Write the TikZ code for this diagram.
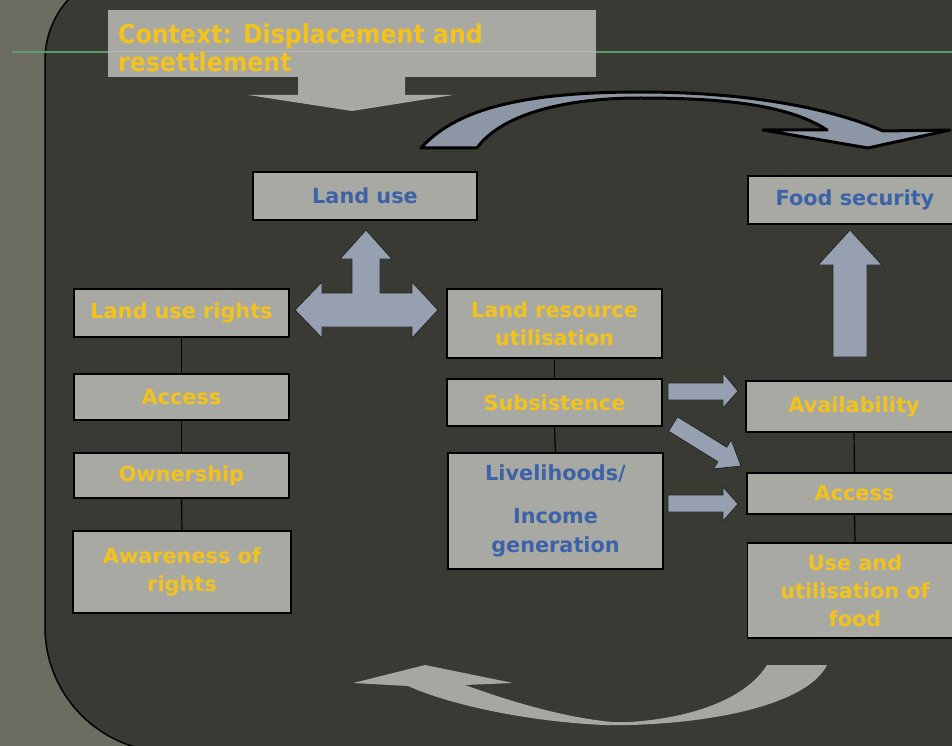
\documentclass[tikz,border=0pt]{standalone}
\usepackage{fontspec}
\setmainfont{DejaVu Sans}
\newfontfamily\ctxfont{DejaVu Sans}[FakeStretch=0.91]

\definecolor{bgolive}{RGB}{108,108,97}
\definecolor{bgpanel}{RGB}{58,58,52}
\definecolor{boxgrey}{RGB}{169,169,164}
\definecolor{txtgold}{RGB}{242,194,30}
\definecolor{txtblue}{RGB}{60,98,168}
\definecolor{arrowsteel}{RGB}{150,160,176}
\definecolor{arcsteel}{RGB}{140,150,164}
\definecolor{arrowpale}{RGB}{166,167,161}
\definecolor{rulegreen}{RGB}{92,156,108}

\tikzset{
  stagebox/.style={draw=black, line width=1.3pt, fill=boxgrey, align=center,
    inner sep=0pt, minimum width=215pt,
    font=\bfseries\fontsize{20.8}{28}\selectfont},
  goldlabel/.style={stagebox, text=txtgold},
  bluelabel/.style={stagebox, text=txtblue},
  blockarrow/.style={fill=arrowsteel, draw=black!85, line width=0.8pt, line join=miter},
  link/.style={draw=black, line width=1.2pt}
}

\begin{document}
\begin{tikzpicture}[x=1pt, y=-1pt]
\useasboundingbox (0,0) rectangle (952,746);
\clip (0,0) rectangle (952,746);

% backdrop and rounded slide panel
\fill[bgolive] (0,0) rectangle (952,746);
\filldraw[fill=bgpanel, draw=black, line width=1.5pt]
  (1000,-30) -- (135,-30) .. controls (85.3,-30) and (45,10.3) .. (45,60)
  -- (45,627) .. controls (45,696) and (101,752) .. (170,752)
  -- (1000,752) -- cycle;

% thin title rule
\draw[rulegreen, line width=1.3pt] (12,52) -- (952,52);

% context banner with its downward arrow
\node[fill=boxgrey, minimum width=488pt, minimum height=67pt, inner sep=0pt] (context) at (352,43.5) {};
\draw[white, opacity=0.18, line width=1pt] (context.west |- 0,52) -- (context.east |- 0,52);
\fill[boxgrey] (298,76) -- (405,76) -- (405,95) -- (453,95) -- (352,111) -- (248,95) -- (298,95) -- cycle;
\node[anchor=north west, inner sep=0pt, align=left, text=txtgold,
      font=\ctxfont\bfseries\fontsize{26}{28}\selectfont] (contexttext) at (118,24)
  {Context: Displacement and\\resettlement};

% curved arrow from land use to food security
\filldraw[fill=arcsteel, draw=black, line width=3pt, line join=round]
  (421,148) .. controls (455,110) and (520,92) .. (640,92)
  .. controls (760,92) and (840,112) .. (883,131)
  -- (950,130) -- (868,148) -- (763,130) -- (827,130)
  .. controls (790,106) and (730,98) .. (640,98)
  .. controls (560,98) and (500,116) .. (477,148) -- cycle;

% boxes
\node[bluelabel, minimum width=224pt, minimum height=48pt] (landuse) at (365,196) {Land use};
\node[bluelabel, minimum width=214pt, minimum height=48pt] (foodsec) at (855,200) {Food security};

\node[goldlabel, minimum height=48pt] (rights) at (181.5,313) {Land use rights};
\node[goldlabel, minimum height=46pt] (accessL) at (181.5,397) {Access};
\node[goldlabel, minimum height=45pt] (ownership) at (181.5,475.5) {Ownership};
\node[goldlabel, minimum width=218pt, minimum height=82pt] (awareness) at (182,572) {Awareness of\\rights};

\node[goldlabel, minimum height=69pt] (resource) at (554.5,323.5) {Land resource\\utilisation};
\node[goldlabel, minimum height=47pt] (subsistence) at (554.5,402.5) {Subsistence};
\node[bluelabel, minimum height=116pt, font=\bfseries\fontsize{20.8}{29}\selectfont] (livelihoods) at (555.5,511)
  {Livelihoods/\\[14pt]Income\\generation};

\node[goldlabel, minimum width=216pt, minimum height=51pt] (availability) at (854,406.5) {Availability};
\node[goldlabel, minimum height=41pt] (accessR) at (854.5,493.5) {Access};
\node[goldlabel, minimum height=95pt] (usefood) at (855,590.5) {Use and\\utilisation of\\food};

% connectors
\draw[link] (rights.south) -- (accessL.north);
\draw[link] (accessL.south) -- (ownership.north);
\draw[link] (ownership.south) -- (awareness.north);
\draw[link] (resource.south) -- (subsistence.north);
\draw[link] (subsistence.south) -- (livelihoods.north);
\draw[link] (availability.south) -- (accessR.north);
\draw[link] (accessR.south) -- (usefood.north);

% three-way arrow under land use
\filldraw[blockarrow]
  (295,310) -- (322,282) -- (322,293) -- (352,293) -- (352,259) -- (340,259)
  -- (366,230) -- (392,259) -- (380,259) -- (380,293) -- (412,293) -- (412,282)
  -- (438,310) -- (412,338) -- (412,327) -- (322,327) -- (322,338) -- cycle;

% upward arrow into food security
\filldraw[blockarrow]
  (850,230) -- (882,265) -- (867,265) -- (867,357) -- (833,357) -- (833,265) -- (818,265) -- cycle;

% arrows from the middle column to the food security dimensions
\filldraw[blockarrow]
  (668,383) -- (723,383) -- (723,373) -- (738,391) -- (723,408) -- (723,400) -- (668,400) -- cycle;
\filldraw[blockarrow]
  (677.5,416.8) -- (726.8,447.2) -- (731.2,440.0) -- (741,466) -- (713.4,468.9) -- (717.8,461.7) -- (668.5,431.2) -- cycle;
\filldraw[blockarrow]
  (668,495) -- (723,495) -- (723,487) -- (738,504) -- (723,521) -- (723,512) -- (668,512) -- cycle;

% return arrow along the bottom
\fill[arrowpale]
  (353,683) -- (425,665) -- (513,683) -- (465,685)
  .. controls (520,705) and (570,718) .. (612,722) -- (630,722)
  .. controls (690,718) and (745,700) .. (767,665) -- (827,665)
  .. controls (810,700) and (730,722) .. (630,725) -- (605,725)
  .. controls (530,722) and (450,705) .. (408,686) -- cycle;
\end{tikzpicture}
\end{document}
